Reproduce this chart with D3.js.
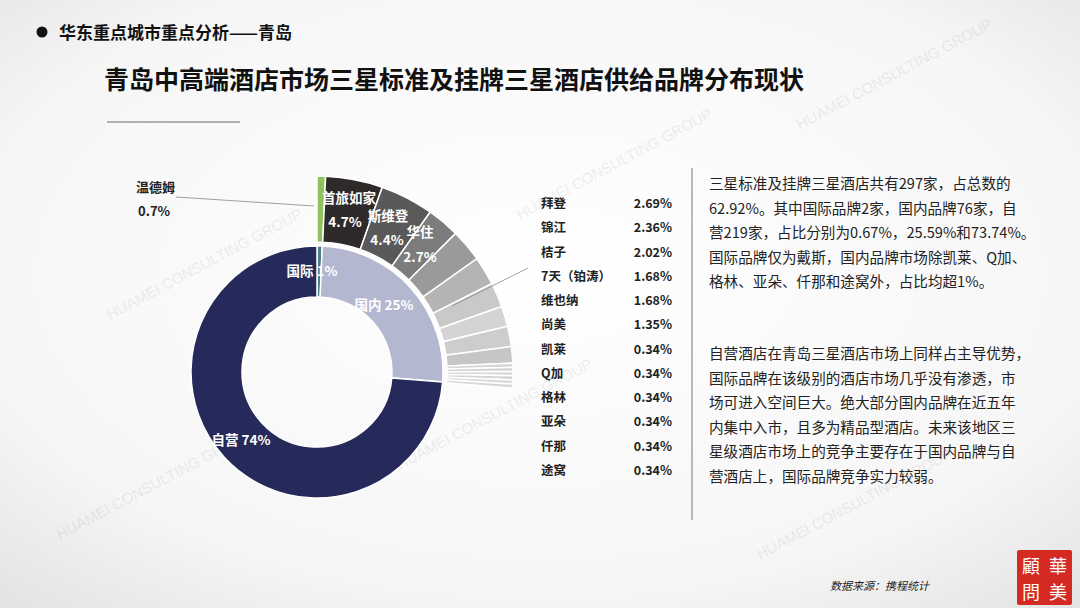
<!DOCTYPE html>
<html><head><meta charset="utf-8">
<script src="https://cdn.jsdelivr.net/npm/d3@7"></script>
<style>body{margin:0;}svg{font-family:"Noto Sans CJK SC","Noto Sans",sans-serif;}</style>
</head><body><svg id="c" width="1080" height="608"></svg>
<script>
// inner ring
var innerNames = ["国际", "国内", "自营"];
var innerValues = [0.67, 25.59, 73.74];
var innerColors = ["#4f7f86", "#b3b7cf", "#262a5a"];
// outer ring brands
var brandNames = ["温德姆", "首旅如家", "斯维登", "华住", "拜登", "锦江", "桔子", "7天（铂涛）", "维也纳", "尚美", "凯莱", "Q加", "格林", "亚朵", "仟那", "途窝"];
var brandValues = [0.7, 4.7, 4.4, 2.7, 2.69, 2.36, 2.02, 1.68, 1.68, 1.35, 0.34, 0.34, 0.34, 0.34, 0.34, 0.34];
var brandColors = ["#8dc35a", "#2e2a2a", "#595959", "#7c7c7c", "#9a9a9a", "#b4b4b4", "#c9c9c9", "#d4d4d4", "#cdcdcd", "#c6c6c6", "#d6d6d6", "#d0d0d0", "#dadada", "#d3d3d3", "#dcdcdc", "#d6d6d6"];
var legendNames = brandNames.slice(4);
var legendLabels = ["2.69%", "2.36%", "2.02%", "1.68%", "1.68%", "1.35%", "0.34%", "0.34%", "0.34%", "0.34%", "0.34%", "0.34%"];
var para1 = ["三星标准及挂牌三星酒店共有297家，占总数的", "62.92%。其中国际品牌2家，国内品牌76家，自", "营219家，占比分别为0.67%，25.59%和73.74%。", "国际品牌仅为戴斯，国内品牌市场除凯莱、Q加、", "格林、亚朵、仟那和途窝外，占比均超1%。"];
var para2 = ["自营酒店在青岛三星酒店市场上同样占主导优势，", "国际品牌在该级别的酒店市场几乎没有渗透，市", "场可进入空间巨大。绝大部分国内品牌在近五年", "内集中入市，且多为精品型酒店。未来该地区三", "星级酒店市场上的竞争主要存在于国内品牌与自", "营酒店上，国际品牌竞争实力较弱。"];

var svg = d3.select("#c");
var defs = svg.append("defs");
var g0 = defs.append("radialGradient").attr("id", "bg").attr("cx", "50%").attr("cy", "45%").attr("r", "75%");
g0.append("stop").attr("offset", "0%").attr("stop-color", "#ffffff");
g0.append("stop").attr("offset", "70%").attr("stop-color", "#f6f6f6");
g0.append("stop").attr("offset", "100%").attr("stop-color", "#e2e2e2");
svg.append("rect").attr("width", 1080).attr("height", 608).attr("fill", "url(#bg)");

// watermarks (faint)
[[60, 540], [400, 470], [110, 320], [520, 220], [800, 130], [760, 560]].forEach(function (p) {
  svg.append("text").attr("transform", "translate(" + p[0] + "," + p[1] + ") rotate(-28)")
    .attr("font-size", 15).attr("fill", "#000").attr("opacity", 0.06)
    .attr("font-family", "Liberation Sans").text("HUAMEI CONSULTING GROUP");
});

// header
svg.append("circle").attr("cx", 42).attr("cy", 32).attr("r", 5.5).attr("fill", "#111");
svg.append("text").attr("x", 59).attr("y", 39).attr("font-size", 17).attr("font-weight", "bold").attr("fill", "#111").text("华东重点城市重点分析——青岛");
svg.append("text").attr("x", 104).attr("y", 89).attr("font-size", 25).attr("font-weight", "bold").attr("fill", "#111").text("青岛中高端酒店市场三星标准及挂牌三星酒店供给品牌分布现状");
svg.append("line").attr("x1", 107).attr("x2", 240).attr("y1", 122).attr("y2", 122).attr("stroke", "#999").attr("stroke-width", 1.5);

var cx = 317, cy = 372;
var cg = svg.append("g").attr("transform", "translate(" + cx + "," + cy + ")");
var toAng = d3.scaleLinear().domain([0, 100]).range([0, 2 * Math.PI]);

function arcsOf(vals) {
  var out = [], acc = 0;
  vals.forEach(function (v) { out.push({ s: toAng(acc), e: toAng(acc + v), v: v }); acc += v; });
  return out;
}
var innerArc = d3.arc().innerRadius(75).outerRadius(126);
var inA = arcsOf(innerValues);
cg.selectAll(".in").data(inA).join("path")
  .attr("d", function (d) { return innerArc({ startAngle: d.s, endAngle: d.e }); })
  .attr("fill", function (d, i) { return innerColors[i]; })
  .attr("stroke", "#fff").attr("stroke-width", 1.5);

var outerArc = d3.arc().innerRadius(130).outerRadius(196);
var outA = arcsOf(brandValues);
cg.selectAll(".out").data(outA).join("path")
  .attr("d", function (d) { return outerArc({ startAngle: d.s, endAngle: d.e }); })
  .attr("fill", function (d, i) { return brandColors[i]; })
  .attr("stroke", "#fff").attr("stroke-width", 1.5);

// labels on ring
function lab(x, y, t, col) {
  svg.append("text").attr("x", x).attr("y", y).attr("font-size", 13.5).attr("font-weight", "bold").attr("fill", col || "#fff").attr("text-anchor", "middle").text(t);
}
lab(312, 276, "国际 1%");
lab(384, 310, "国内 25%");
lab(241, 445, "自营 74%");
lab(349, 203, "首旅如家"); lab(345, 227, "4.7%");
lab(388, 221, "斯维登"); lab(387, 245, "4.4%");
lab(420, 237, "华住"); lab(420, 262, "2.7%");

// leader lines
svg.append("line").attr("x1", 176).attr("y1", 197).attr("x2", 314).attr("y2", 206).attr("stroke", "#888").attr("stroke-width", 0.8);
svg.append("text").attr("x", 136).attr("y", 192).attr("font-size", 13).attr("font-weight", "bold").attr("fill", "#222").text("温德姆");
svg.append("text").attr("x", 138).attr("y", 216).attr("font-size", 13).attr("font-weight", "bold").attr("fill", "#222").text("0.7%");
svg.append("line").attr("x1", 528).attr("y1", 268).attr("x2", 452).attr("y2", 306).attr("stroke", "#888").attr("stroke-width", 0.8);

// legend table
var ly = d3.scaleLinear().domain([0, legendNames.length - 1]).range([208, 475]);
legendNames.forEach(function (n, i) {
  svg.append("text").attr("x", 541).attr("y", ly(i)).attr("font-size", 12.5).attr("font-weight", "bold").attr("fill", "#222").text(n);
  svg.append("text").attr("x", 672).attr("y", ly(i)).attr("font-size", 12.5).attr("font-weight", "bold").attr("fill", "#222").attr("text-anchor", "end").text(legendLabels[i]);
});

// text panel
svg.append("line").attr("x1", 692).attr("x2", 692).attr("y1", 168).attr("y2", 520).attr("stroke", "#777").attr("stroke-width", 1);
para1.forEach(function (t, i) {
  svg.append("text").attr("x", 709).attr("y", 189 + i * 24.5).attr("font-size", 14.6).attr("fill", "#222").text(t);
});
para2.forEach(function (t, i) {
  svg.append("text").attr("x", 709).attr("y", 359 + i * 24.5).attr("font-size", 14.6).attr("fill", "#222").text(t);
});

svg.append("text").attr("x", 830).attr("y", 590).attr("font-size", 11).attr("font-style", "italic").attr("fill", "#222").text("数据来源：携程统计");

// seal
var seal = svg.append("g").attr("transform", "translate(1017,550)");
seal.append("rect").attr("width", 55).attr("height", 55).attr("fill", "#d42a22").attr("rx", 2);
[["華", 41, 23], ["美", 41, 49], ["顧", 14, 23], ["問", 14, 49]].forEach(function (c) {
  seal.append("text").attr("x", c[1]).attr("y", c[2]).attr("font-size", 18).attr("fill", "#fff").attr("text-anchor", "middle").attr("font-family", "Noto Sans CJK TC").text(c[0]);
});
</script></body></html>
